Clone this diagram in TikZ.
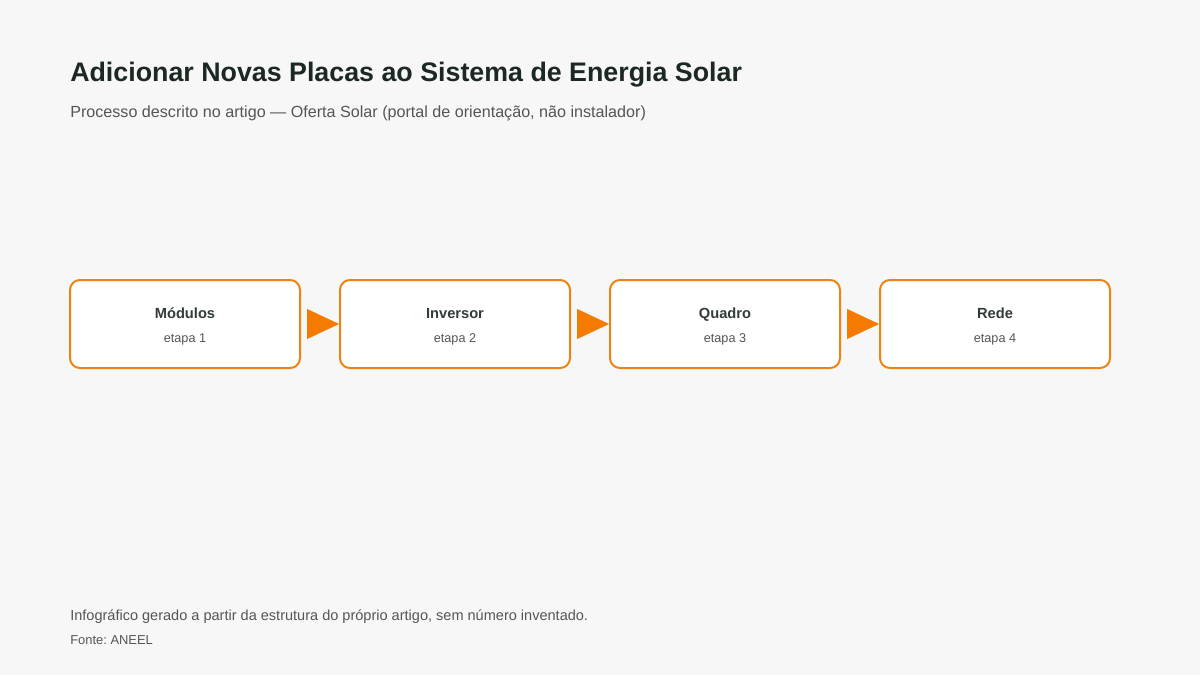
\documentclass[tikz,border=0pt]{standalone}
\usepackage{fontspec}
\setmainfont{Liberation Sans}
\usepackage{tikz}
\usetikzlibrary{arrows.meta, positioning}
\frenchspacing
\definecolor{fundo}{RGB}{247, 247, 247}
\definecolor{laranja}{RGB}{240, 130, 20}
\definecolor{seta}{RGB}{245, 122, 0}
\definecolor{escuro}{RGB}{28, 40, 34}
\definecolor{cinza}{RGB}{85, 85, 85}

\begin{document}
\begin{tikzpicture}[x=0.75pt, y=-0.75pt,
    etapabox/.style={draw=laranja, line width=1.5pt, fill=white, rounded corners=7.5pt,
      minimum width=172.5pt, minimum height=66pt, inner sep=0pt},
    setafluxo/.style={-{Triangle[length=24pt, width=22.5pt]}, seta, line width=0.2pt, shorten <=6pt}]
  \useasboundingbox[fill=fundo] (0,0) rectangle (1200,675);
  % titulo e subtitulo
  \node[anchor=base west, inner sep=0pt, font=\bfseries\fontsize{20.1}{23}\selectfont, text=escuro] (titulo) at (70,81) {Adicionar Novas Placas ao Sistema de Energia Solar};
  \node[anchor=base west, inner sep=0pt, font=\fontsize{12.1}{14}\selectfont, text=cinza] (sub) at (70,117) {Processo descrito no artigo — Oferta Solar (portal de orientação, não instalador)};
  % etapas
  \foreach \nm/\ttl [count=\k] in {mod/Módulos,inv/Inversor,qua/Quadro,rede/Rede} {
    \node[etapabox] (\nm) at ({185+270*(\k-1)},324) {};
    \node[anchor=base, inner sep=0pt, font=\bfseries\fontsize{11}{13}\selectfont, text=escuro!90] (\nm-t) at ({185+270*(\k-1)},318) {\ttl};
    \node[anchor=base, inner sep=0pt, font=\fontsize{9.5}{11}\selectfont, text=cinza] (\nm-e) at ({185+270*(\k-1)},342) {etapa \k};
  }
  \foreach \a/\b in {mod/inv,inv/qua,qua/rede}
    \draw[setafluxo] (\a) -- (\b);
  % rodape
  \node[anchor=base west, inner sep=0pt, font=\fontsize{10.9}{13}\selectfont, text=cinza] (nota) at (70,620) {Infográfico gerado a partir da estrutura do próprio artigo, sem número inventado.};
  \node[anchor=base west, inner sep=0pt, font=\fontsize{9.7}{12}\selectfont, text=cinza] (fonte) at (70,644) {Fonte: ANEEL};
\end{tikzpicture}
\end{document}
